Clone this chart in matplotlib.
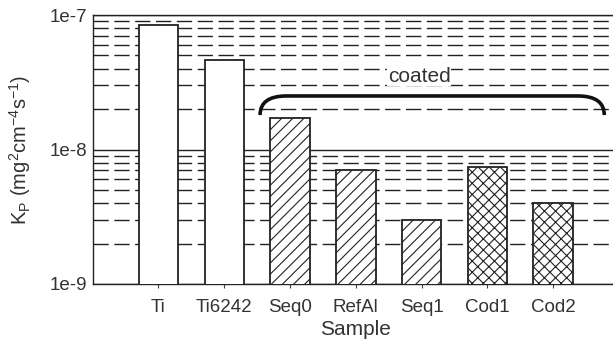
import numpy as np
import matplotlib.pyplot as plt
import matplotlib.ticker as mticker
from matplotlib.path import Path
from matplotlib.patches import PathPatch

plt.rcParams['font.family'] = ['Liberation Sans', 'DejaVu Sans']
plt.rcParams['mathtext.fontset'] = 'custom'
plt.rcParams['mathtext.rm'] = 'Liberation Sans'
plt.rcParams['mathtext.it'] = 'Liberation Sans'
plt.rcParams['text.color'] = '#333333'
plt.rcParams['xtick.color'] = '#333333'
plt.rcParams['ytick.color'] = '#333333'
plt.rcParams['axes.labelcolor'] = '#333333'

# Parabolic rate constants per sample
samples = ['Ti', 'Ti6242', 'Seq0', 'RefAl', 'Seq1', 'Cod1', 'Cod2']
kp = [8.4e-8, 4.6e-8, 1.71e-8, 7.05e-9, 3.0e-9, 7.45e-9, 4.02e-9]
hatches = ['', '', '///', '///', '///', 'xxx', 'xxx']
ytick_vals = [1e-9, 1e-8, 1e-7]
ytick_labels = ['1e-9', '1e-8', '1e-7']

fig = plt.figure(figsize=(6.13, 3.4), dpi=100)
ax = fig.add_axes([92.7/613, 1 - 284/340, 526.3/613, 269/340])

x = np.arange(len(samples))
plt.rcParams['hatch.linewidth'] = 0.8
for i in range(len(samples)):
    ax.bar(x[i], kp[i], width=0.6, color='white', edgecolor='#222222',
           linewidth=1.3, hatch=hatches[i], zorder=3)

ax.set_yscale('log')
ax.set_ylim(1e-9, 1e-7)
ax.set_xlim(-1, 7)
ax.yaxis.set_major_locator(mticker.FixedLocator(ytick_vals))
ax.yaxis.set_major_formatter(mticker.FixedFormatter(ytick_labels))
ax.yaxis.set_minor_locator(mticker.LogLocator(base=10, subs=np.arange(2, 10)))
ax.yaxis.set_minor_formatter(mticker.NullFormatter())
ax.grid(which='major', axis='y', color='#222222', linewidth=1.0, linestyle='-', zorder=1)
ax.grid(which='minor', axis='y', color='#222222', linewidth=1.0,
        linestyle=(0, (11, 4)), zorder=1)
ax.set_axisbelow(True)
ax.tick_params(axis='y', which='both', length=0, labelsize=13.5, pad=4)
ax.tick_params(axis='x', length=3, direction='out', labelsize=13.5, pad=8,
               color='#444444')
ax.set_xticks(x)
ax.set_xticklabels(samples)
for s in ax.spines.values():
    s.set_color('#222222')
    s.set_linewidth(1.0)

ax.set_xlabel('Sample', fontsize=15, labelpad=3)
ax.set_ylabel(r'K$_\mathrm{P}$ (mg$^2$cm$^{-4}$s$^{-1}$)', fontsize=14.5, labelpad=12)

# Brace over the coated samples
xl, xr, yt, yb, r = 0.318, 0.972, 0.699, 0.628, 0.05
verts = [(xl, yb), (xl, yt), (xl + r, yt), (xr - r, yt), (xr, yt), (xr, yb)]
codes = [Path.MOVETO, Path.CURVE3, Path.CURVE3, Path.LINETO, Path.CURVE3, Path.CURVE3]
ax.add_patch(PathPatch(Path(verts, codes), transform=ax.transAxes, fill=False,
                       edgecolor='#111111', linewidth=2.6, zorder=4, clip_on=False))
ax.text(0.62, 0.772, 'coated', transform=ax.transAxes, ha='center', va='center',
        fontsize=15, zorder=4,
        bbox=dict(facecolor='white', edgecolor='none', pad=0.5))

fig.savefig('out.png', dpi=100)
